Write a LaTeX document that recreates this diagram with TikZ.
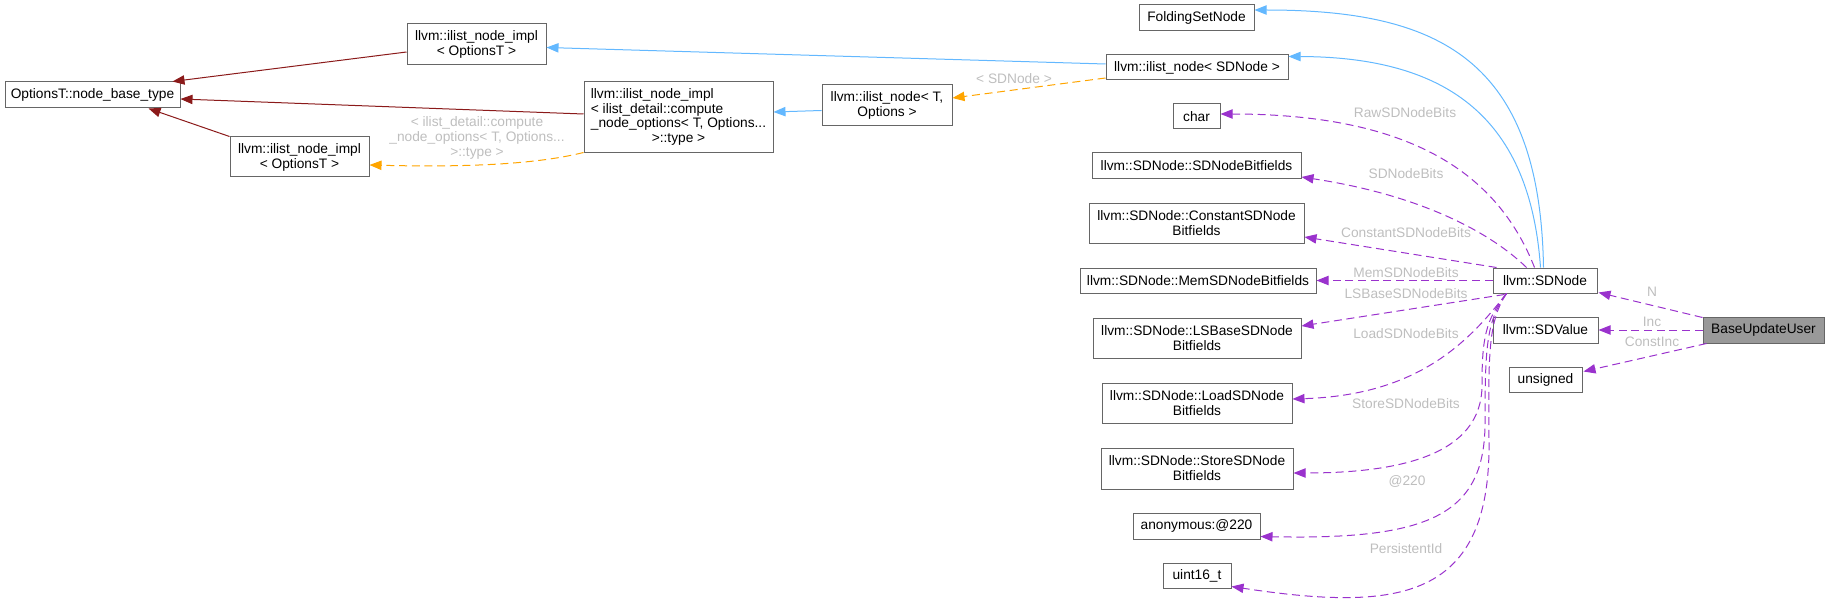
\documentclass[tikz,border=0pt]{standalone}
\usepackage{fontspec}
\setmainfont{Liberation Sans}
\usetikzlibrary{arrows.meta,calc}
\definecolor{boxgray}{HTML}{666666}
\definecolor{inhblue}{HTML}{63B8FF}
\definecolor{inhred}{HTML}{8B1A1A}
\definecolor{tplorange}{HTML}{FFA500}
\definecolor{usepurple}{HTML}{9A32CD}
\definecolor{lblgray}{HTML}{BEBEBE}
\definecolor{hifill}{HTML}{999999}
\newcommand\nfont{\fontsize{10.3pt}{11.2pt}\selectfont}
\newcommand\GBox[7][]{%
  \pgfmathsetmacro\gbw{(#5-#3)*0.75}%
  \pgfmathsetmacro\gbh{(#6-#4)*0.75}%
  \node[clsbox,#1,minimum width=\gbw pt,minimum height=\gbh pt] (#2) at ({(#3+#5)/2},{(#4+#6)/2}) {#7};}
\tikzset{
  clsbox/.style={draw=boxgray,line width=0.75pt,fill=white,inner sep=0pt,align=center,font=\nfont,text=black},
  lbl/.style={inner sep=0pt,font=\nfont,text=lblgray,align=center},
  tipA/.style={-{Triangle[length=9pt,width=7pt]}},
  inhB/.style={tipA,draw=inhblue,line width=0.75pt},
  inhR/.style={tipA,draw=inhred,line width=0.75pt},
  tplO/.style={tipA,draw=tplorange,line width=0.75pt,dash pattern=on 6pt off 3.5pt},
  useP/.style={tipA,draw=usepurple,line width=0.75pt,dash pattern=on 6pt off 3.5pt},
}
\begin{document}
\begin{tikzpicture}[x=0.75pt,y=-0.75pt]
\useasboundingbox (0,0) rectangle (1830,606);
% nodes
\GBox{base}{5}{82}{180}{108}{OptionsT::node\_base\_type}
\GBox{implU}{407}{24}{546}{65}{llvm::ilist\_node\_impl\\< OptionsT >}
\GBox{implL}{230}{137}{369}{177}{llvm::ilist\_node\_impl\\< OptionsT >}
\GBox{implM}{584}{82}{773}{153}{\begin{tabular}{@{}l@{}}llvm::ilist\_node\_impl\\< ilist\_detail::compute\\\_node\_options< T, Options...\\\multicolumn{1}{@{}c@{}}{>::type >}\end{tabular}}
\GBox{nodeT}{822}{85}{952}{126}{llvm::ilist\_node< T,\\Options >}
\GBox{nodeSD}{1106}{55}{1288}{80}{llvm::ilist\_node< SDNode >}
\GBox{fold}{1139}{5}{1254}{31}{FoldingSetNode}
\GBox{chr}{1173}{104}{1220}{129}{char}
\GBox{sdbf}{1092}{153}{1301}{179}{llvm::SDNode::SDNodeBitfields}
\GBox{cbf}{1089}{203}{1304}{243}{llvm::SDNode::ConstantSDNode\\Bitfields}
\GBox{mbf}{1080}{268}{1316}{293}{llvm::SDNode::MemSDNodeBitfields}
\GBox{lsbf}{1093}{318}{1301}{358}{llvm::SDNode::LSBaseSDNode\\Bitfields}
\GBox{ldbf}{1102}{383}{1292}{423}{llvm::SDNode::LoadSDNode\\Bitfields}
\GBox{stbf}{1101}{448}{1293}{489}{llvm::SDNode::StoreSDNode\\Bitfields}
\GBox{anon}{1133}{513}{1260}{539}{anonymous:@220}
\GBox{u16}{1163}{563}{1231}{588}{uint16\_t}
\GBox{sdn}{1493}{268}{1597}{293}{llvm::SDNode}
\GBox{sdv}{1493}{317}{1598}{343}{llvm::SDValue}
\GBox{uns}{1509}{367}{1582}{392}{unsigned}
\GBox[fill=hifill]{buu}{1703}{317}{1824}{343}{BaseUpdateUser}
% inheritance (red)
\draw[inhR] ($(implU.west)+(0,7.5)$) -- ($(base.north east)+(-8,0)$);
\draw[inhR] ($(implM.west)+(0,-3.5)$) -- ($(base.east)+(0,4)$);
\draw[inhR] (implL.north west) -- ($(base.south east)+(-32,0)$);
% inheritance (blue)
\draw[inhB] ($(nodeT.west)+(0,5)$) -- ($(implM.east)+(0,-5.5)$);
\draw[inhB] ($(nodeSD.west)+(0,-3.5)$) -- ($(implU.east)+(0,3)$);
\draw[inhB] ($(sdn.north west)+(51,0)$) .. controls (1540,60) and (1440,10) .. ($(fold.east)+(0,-8)$);
\draw[inhB] ($(sdn.north west)+(48,0)$) .. controls (1530,120) and (1450,57) .. ($(nodeSD.north east)+(0,2)$);
% template (orange)
\draw[tplO] ($(nodeSD.west)+(0,10.5)$) -- ($(nodeT.east)+(0,-7.5)$);
\node[lbl] (lSD) at (1014,79) {< SDNode >};
\draw[tplO] ($(implM.south west)+(0,-1)$) .. controls (530,166) and (450,167) .. ($(implL.east)+(0,8)$);
\node[lbl] (lTpl) at (477,138) {< ilist\_detail::compute\\\_node\_options< T, Options...\\>::type >};
% usage (purple)
\draw[useP] ($(sdn.north west)+(42,0)$) .. controls (1500,180) and (1420,114) .. ($(chr.east)+(0,-2.5)$);
\node[lbl] (lRaw) at (1405,113) {RawSDNodeBits};
\draw[useP] ($(sdn.north west)+(34,0)$) .. controls (1490,232) and (1420,195) .. ($(sdbf.east)+(0,11)$);
\node[lbl] (lSDB) at (1406,174) {SDNodeBits};
\draw[useP] ($(sdn.north west)+(4,0)$) -- ($(cbf.east)+(0,14)$);
\node[lbl] (lCon) at (1406,233) {ConstantSDNodeBits};
\draw[useP] (sdn.west) -- (mbf.east);
\node[lbl] (lMem) at (1406,273) {MemSDNodeBits};
\draw[useP] ($(sdn.south west)+(12,1)$) -- ($(lsbf.east)+(0,-12)$);
\node[lbl] (lLSB) at (1406,294) {LSBaseSDNodeBits};
\draw[useP] ($(sdn.south west)+(14,0)$) .. controls (1470,340) and (1420,395) .. ($(ldbf.east)+(0,-4)$);
\node[lbl] (lLd) at (1406,334) {LoadSDNodeBits};
\draw[useP] ($(sdn.south west)+(14,0)$) .. controls (1485,320) and (1482,340) .. (1482,385) .. controls (1482,455) and (1400,473) .. ($(stbf.east)+(0,4.5)$);
\node[lbl] (lSt) at (1406,404) {StoreSDNodeBits};
\draw[useP] ($(sdn.south west)+(14,0)$) .. controls (1487,320) and (1485,345) .. (1485,420) .. controls (1486,515) and (1430,540) .. ($(anon.east)+(0,10.5)$);
\node[lbl] (lAn) at (1407,481) {@220};
\draw[useP] ($(sdn.south west)+(14,0)$) .. controls (1489,320) and (1488,350) .. (1489,440) .. controls (1491,600) and (1400,612) .. ($(u16.east)+(0,11)$);
\node[lbl] (lPid) at (1406,549) {PersistentId};
\draw[useP] ($(buu.north west)+(0,1)$) -- ($(sdn.south east)+(1,-1)$);
\node[lbl] (lN) at (1652,292) {N};
\draw[useP] (buu.west) -- (sdv.east);
\node[lbl] (lInc) at (1652,322) {Inc};
\draw[useP] ($(buu.south west)+(4,0)$) -- ($(uns.east)+(1,-8)$);
\node[lbl] (lCI) at (1652,342) {ConstInc};
\end{tikzpicture}
\end{document}
